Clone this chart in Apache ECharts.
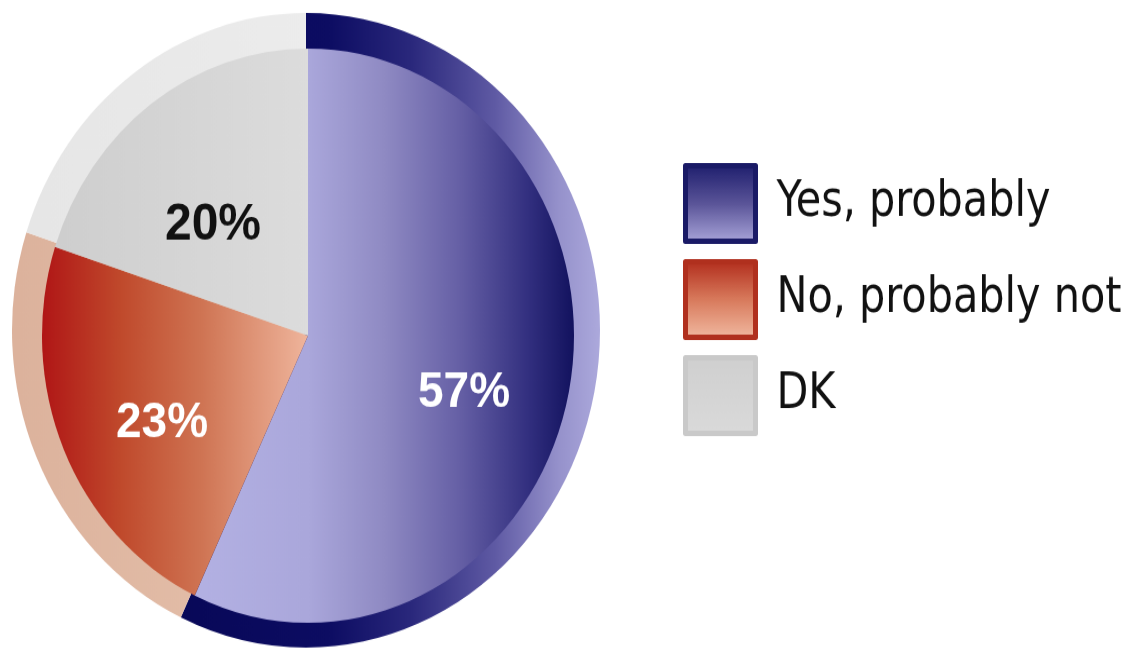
<!DOCTYPE html>
<html>
<head>
<meta charset="utf-8">
<title>Yes, probably / No, probably not / DK</title>
<script src="https://cdn.jsdelivr.net/npm/echarts@6/dist/echarts.min.js"></script>
<style>
  html, body { margin: 0; padding: 0; background: #ffffff; overflow: hidden; }
  #wrap { width: 1141px; height: 653px; overflow: hidden; }
  /* the pie is drawn slightly taller than wide */
  #chart { width: 1141px; height: 605px; transform: scaleY(1.0793); transform-origin: 0 0; }
</style>
</head>
<body>
<div id="wrap"><div id="chart"></div></div>
<script>
// answers and their shares (%)
const categories = ['Yes, probably', 'No, probably not', 'DK'];
const shares = [57, 23, 20];

// where each percentage label sits, in chart pixels
const labelSpots = [[464, 364], [162, 392], [213, 209]];
const labelColors = ['#ffffff', '#ffffff', '#111111'];
const labelSizes = [46, 46, 48];

const G = echarts.graphic.LinearGradient;
const hGrad = stops => new G(0, 0, 1, 0, stops.map(([o, c]) => ({ offset: o, color: c })));
const vGrad = stops => new G(0, 0, 0, 1, stops.map(([o, c]) => ({ offset: o, color: c })));

// fills of the main slices
const sliceFills = [
  hGrad([[0, '#b3b1e3'], [0.3, '#aaa7db'], [0.5, '#8f8ac3'], [0.7, '#655fa5'], [0.88, '#322f7f'], [1, '#12125e']]),
  hGrad([[0, '#b01616'], [0.3, '#c04a2c'], [0.6, '#cf7453'], [1, '#efb59c']]),
  hGrad([[0, '#cecece'], [1, '#dcdcdc']])
];
// fills of the outer rim
const rimFills = [
  hGrad([[0, '#080858'], [0.35, '#0c0c62'], [0.55, '#2a287c'], [0.75, '#5f5aa4'], [0.9, '#9591cb'], [1, '#aca9dc']]),
  hGrad([[0, '#dcb29c'], [1, '#e6c2ad']]),
  hGrad([[0, '#e6e6e6'], [1, '#ececec']])
];
// legend swatches
const swatchFills = [
  vGrad([[0, '#1c1c6c'], [0.5, '#5a5498'], [1, '#aca8dc']]),
  vGrad([[0, '#b02a1a'], [0.5, '#d87a5c'], [1, '#f2bca4']]),
  vGrad([[0, '#cfcfcf'], [1, '#dadada']])
];
const swatchBorders = ['#1a1a66', '#b0301e', '#c9c9c9'];

const rimData = categories.map((name, i) => ({
  name, value: shares[i], itemStyle: { color: rimFills[i] }
}));
const sliceData = categories.map((name, i) => ({
  name, value: shares[i],
  itemStyle: { color: sliceFills[i] },
  label: { color: labelColors[i], fontSize: labelSizes[i] }
}));

const chart = echarts.init(document.getElementById('chart'), null, { renderer: 'canvas' });
chart.setOption({
  animation: false,
  backgroundColor: '#ffffff',
  legend: {
    orient: 'vertical',
    left: 683,
    top: 151,
    padding: 0,
    itemWidth: 70,
    itemHeight: 70,
    itemGap: 14,
    icon: 'rect',
    selectedMode: false,
    data: categories.map((name, i) => ({
      name,
      itemStyle: { color: swatchFills[i], borderColor: swatchBorders[i], borderWidth: 5 }
    })),
    textStyle: {
      fontFamily: '"DejaVu Sans Condensed", "DejaVu Sans", sans-serif',
      fontSize: 46,
      color: '#111111',
      padding: [0, 0, 0, 16]
    }
  },
  series: [
    {
      name: 'rim',
      type: 'pie',
      silent: true,
      center: [306, 306],
      radius: [0, 294],
      startAngle: 90,
      clockwise: true,
      label: { show: false },
      labelLine: { show: false },
      emphasis: { disabled: true },
      data: rimData
    },
    {
      name: 'answers',
      type: 'pie',
      silent: true,
      center: [308, 311],
      radius: [0, 266],
      startAngle: 90,
      clockwise: true,
      avoidLabelOverlap: false,
      emphasis: { disabled: true },
      label: {
        show: true,
        position: 'inside',
        formatter: '{c}%',
        fontFamily: '"Liberation Sans", Arial, sans-serif',
        fontWeight: 'bold'
      },
      labelLine: { show: false },
      labelLayout: p => ({
        x: labelSpots[p.dataIndex][0],
        y: labelSpots[p.dataIndex][1],
        align: 'center',
        verticalAlign: 'middle'
      }),
      data: sliceData
    }
  ]
});
</script>
</body>
</html>
